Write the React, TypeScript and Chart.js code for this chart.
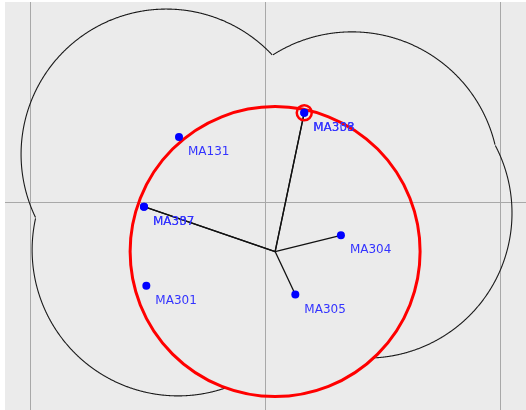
import React, { useEffect, useRef } from "react";
import { Chart, registerables } from "chart.js";

Chart.register(...registerables);

// Station data (plot units; grid lines every 100 units)
const stationNames = ["MA131", "MA333", "MA308", "MA307", "MA337", "MA304", "MA301", "MA305"];
const stationX = [-36.6, 16.7, 16.7, -51.5, -51.5, 32.3, -50.5, 12.9];
const stationY = [27.7, 38.0, 38.0, -2.0, -2.0, -14.2, -35.6, -39.4];
const stationLinked = [false, true, true, true, true, true, false, true];

// Hub (solution point) and its circle
const hubX = 4.3;
const hubY = -21.1;
const hubRadius = 61.7;

// Highlighted station
const highlightName = "MA333";

// Envelope circles
const circleX = [-42.0, 37.0, 43.4, -37.0];
const circleY = [20.3, 9.8, -4.7, -20.4];
const circleR = [61.8, 62.6, 61.7, 62.1];

// Axis ranges and grid ticks
const xMin = -110.64;
const xMax = 111.06;
const yMin = -88.51;
const yMax = 85.11;
const xGridTicks = [-100, 0, 100];
const yGridTicks = [0];

const overlayPlugin = {
  id: "overlay",
  beforeDraw(chart: any) {
    const { ctx, chartArea } = chart;
    ctx.save();
    ctx.fillStyle = "#ebebeb";
    ctx.fillRect(chartArea.left, chartArea.top, chartArea.right - chartArea.left, chartArea.bottom - chartArea.top);
    ctx.restore();
  },
  beforeDatasetsDraw(chart: any) {
    const { ctx, chartArea } = chart;
    const xs = chart.scales.x;
    const ys = chart.scales.y;
    const unit = Math.abs(xs.getPixelForValue(1) - xs.getPixelForValue(0));
    const all = circleX.map((cx, i) => ({
      x: xs.getPixelForValue(cx),
      y: ys.getPixelForValue(circleY[i]),
      r: circleR[i] * unit,
    }));
    const red = { x: xs.getPixelForValue(hubX), y: ys.getPixelForValue(hubY), r: hubRadius * unit };
    const everyCircle = [...all, red];
    ctx.save();
    ctx.beginPath();
    ctx.rect(chartArea.left, chartArea.top, chartArea.right - chartArea.left, chartArea.bottom - chartArea.top);
    ctx.clip();
    ctx.strokeStyle = "#1a1a1a";
    ctx.lineWidth = 1.1;
    const N = 1440;
    all.forEach((c, i) => {
      let drawing = false;
      ctx.beginPath();
      for (let k = 0; k <= N; k++) {
        const a = (k / N) * Math.PI * 2;
        const px = c.x + c.r * Math.cos(a);
        const py = c.y + c.r * Math.sin(a);
        const inside = everyCircle.some((o, j) => {
          if (j === i) return false;
          const dx = px - o.x;
          const dy = py - o.y;
          return Math.sqrt(dx * dx + dy * dy) < o.r - 0.01;
        });
        if (!inside) {
          if (!drawing) {
            ctx.moveTo(px, py);
            drawing = true;
          } else ctx.lineTo(px, py);
        } else drawing = false;
      }
      ctx.stroke();
    });
    ctx.strokeStyle = "#ff0000";
    ctx.lineWidth = 3;
    ctx.beginPath();
    ctx.arc(red.x, red.y, red.r, 0, Math.PI * 2);
    ctx.stroke();
    ctx.restore();
  },
  afterDatasetsDraw(chart: any) {
    const { ctx } = chart;
    const xs = chart.scales.x;
    const ys = chart.scales.y;
    ctx.save();
    ctx.font = '12px "DejaVu Sans"';
    ctx.fillStyle = "#3333ff";
    ctx.textAlign = "left";
    ctx.textBaseline = "alphabetic";
    stationNames.forEach((name, i) => {
      const px = xs.getPixelForValue(stationX[i]);
      const py = ys.getPixelForValue(stationY[i]);
      ctx.fillText(name, px + 9, py + 18);
    });
    ctx.restore();
  },
};

export default function App() {
  const ref = useRef<HTMLCanvasElement>(null);
  useEffect(() => {
    document.body.style.margin = "0";
    const spokes = stationNames
      .map((n, i) => ({ n, i }))
      .filter((s) => stationLinked[s.i])
      .map((s) => ({
        type: "line" as const,
        data: [
          { x: hubX, y: hubY },
          { x: stationX[s.i], y: stationY[s.i] },
        ],
        borderColor: "#111111",
        borderWidth: 1.3,
        pointRadius: 0,
        showLine: true,
        order: 3,
      }));
    const hi = stationNames.indexOf(highlightName);
    const chart = new Chart(ref.current!, {
      type: "scatter",
      data: {
        datasets: [
          ...spokes,
          {
            type: "scatter",
            data: stationNames.map((_, i) => ({ x: stationX[i], y: stationY[i] })),
            pointRadius: 4,
            pointBackgroundColor: "#0000ff",
            pointBorderWidth: 0,
            borderColor: "#0000ff",
            order: 2,
          },
          {
            type: "scatter",
            data: [{ x: stationX[hi], y: stationY[hi] }],
            pointRadius: 7.5,
            pointBackgroundColor: "rgba(0,0,0,0)",
            pointBorderColor: "#ff0000",
            pointBorderWidth: 2.5,
            order: 1,
          },
        ] as any,
      },
      options: {
        animation: false,
        responsive: false,
        devicePixelRatio: 1,
        layout: { autoPadding: false, padding: { left: 5, top: 2, right: 0, bottom: 0 } },
        plugins: { legend: { display: false }, tooltip: { enabled: false } },
        scales: {
          x: {
            type: "linear",
            min: xMin,
            max: xMax,
            afterBuildTicks: (axis: any) => {
              axis.ticks = xGridTicks.map((v) => ({ value: v }));
            },
            ticks: { display: false },
            grid: { color: "#a8a8a8", lineWidth: 1, drawTicks: false },
            border: { display: false },
          },
          y: {
            type: "linear",
            min: yMin,
            max: yMax,
            afterBuildTicks: (axis: any) => {
              axis.ticks = yGridTicks.map((v) => ({ value: v }));
            },
            ticks: { display: false },
            grid: { color: "#a8a8a8", lineWidth: 1, drawTicks: false },
            border: { display: false },
          },
        },
      },
      plugins: [overlayPlugin],
    });
    return () => chart.destroy();
  }, []);
  return (
    <div style={{ width: 526, height: 410 }}>
      <canvas ref={ref} width={526} height={410} />
    </div>
  );
}
